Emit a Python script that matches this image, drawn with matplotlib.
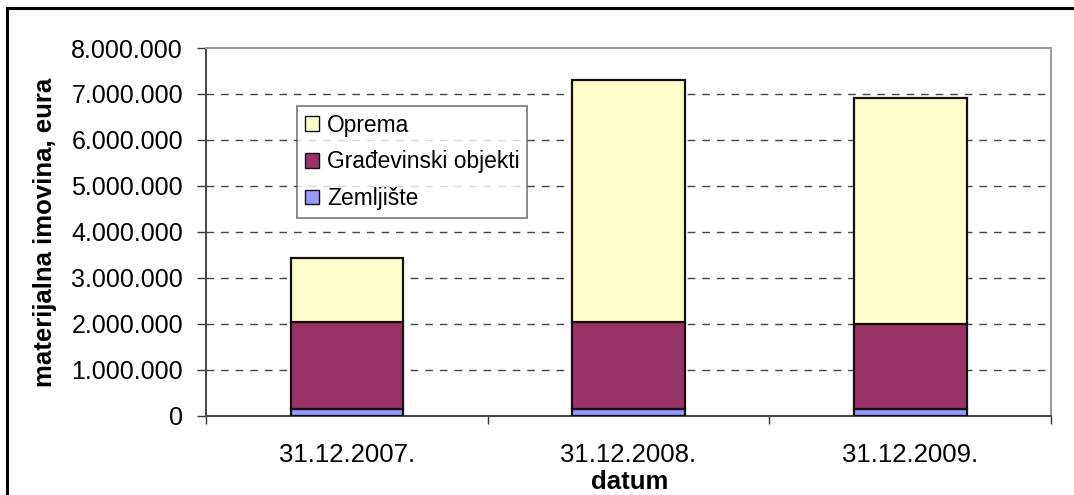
import matplotlib
matplotlib.use("Agg")
import matplotlib.pyplot as plt
from matplotlib.lines import Line2D
from matplotlib.ticker import FuncFormatter, FixedLocator
import numpy as np

plt.rcParams['font.family'] = ['Liberation Sans', 'DejaVu Sans']

categories = ["31.12.2007.", "31.12.2008.", "31.12.2009."]
zemljiste = [150000, 150000, 150000]
gradjevinski = [1890000, 1880000, 1850000]
oprema = [1390000, 5280000, 4920000]
series_names = ["Zemljište", "Građevinski objekti", "Oprema"]
colors = ["#9999FF", "#993366", "#FFFFCC"]
yticks = [0, 1000000, 2000000, 3000000, 4000000, 5000000, 6000000, 7000000, 8000000]

fig = plt.figure(figsize=(10.74, 4.95), dpi=100)
ax = fig.add_axes([206/1074, 1-415.7/495, (1051-206)/1074, (415.7-48)/495])

x = np.arange(len(categories))
w = 0.4
bottom = np.zeros(len(categories))
handles = []
for vals, name, c in zip([zemljiste, gradjevinski, oprema], series_names, colors):
    b = ax.bar(x, vals, w, bottom=bottom, color=c, edgecolor="#111111", linewidth=1.6,
               label=name, zorder=3)
    handles.append(b)
    bottom = bottom + np.array(vals)

ax.set_xlim(-0.5, len(categories) - 0.5)
ax.set_ylim(0, 8000000)
ax.set_yticks(yticks)
ax.yaxis.set_major_formatter(FuncFormatter(lambda v, p: f"{int(v):,}".replace(",", ".")))
ax.tick_params(axis='y', direction='out', length=6.5, width=1, color="#333333",
               labelsize=18, pad=10)
for yv in yticks[1:-1]:
    ax.axhline(yv, color="#444444", linewidth=1.0, linestyle=(0, (5.5, 5)), zorder=1)

ax.set_xticks(x)
ax.set_xticklabels(categories)
ax.tick_params(axis='x', which='major', length=0, labelsize=18.5, pad=20)
ax.xaxis.set_minor_locator(FixedLocator([-0.5, 0.5, 1.5, 2.5]))
ax.tick_params(axis='x', which='minor', direction='out', length=5.5, width=1, color="#333333")

for s in ['left', 'bottom']:
    ax.spines[s].set_color("#444444")
    ax.spines[s].set_linewidth(1.4)
for s in ['top', 'right']:
    ax.spines[s].set_color("#999999")
    ax.spines[s].set_linewidth(1.4)

fig.text(45/1074, 1-232/495, "materijalna imovina, eura", rotation=90, ha='center', va='center',
         fontsize=18.5, fontweight='bold')
fig.text(630/1074, 1-482/495, "datum", ha='center', va='center', fontsize=18.5, fontweight='bold')

leg = ax.legend(handles[::-1], series_names[::-1], loc='upper left',
                bbox_to_anchor=(0.108, 0.843), fontsize=16.4, frameon=True, fancybox=False,
                handlelength=0.6, handleheight=0.6, handletextpad=0.35, labelspacing=0.6,
                borderpad=0.35, borderaxespad=0)
leg.get_frame().set_edgecolor("#555555")
leg.get_frame().set_linewidth(1.2)
for p in leg.get_patches():
    p.set_linewidth(1.0)

fig.add_artist(Line2D([7/1074, 1.01], [1-8/495, 1-8/495], color='black', linewidth=2.2,
                      transform=fig.transFigure))
fig.add_artist(Line2D([7/1074, 7/1074], [1-8/495, -0.01], color='black', linewidth=2.2,
                      transform=fig.transFigure))

fig.savefig("out.png", dpi=100)
